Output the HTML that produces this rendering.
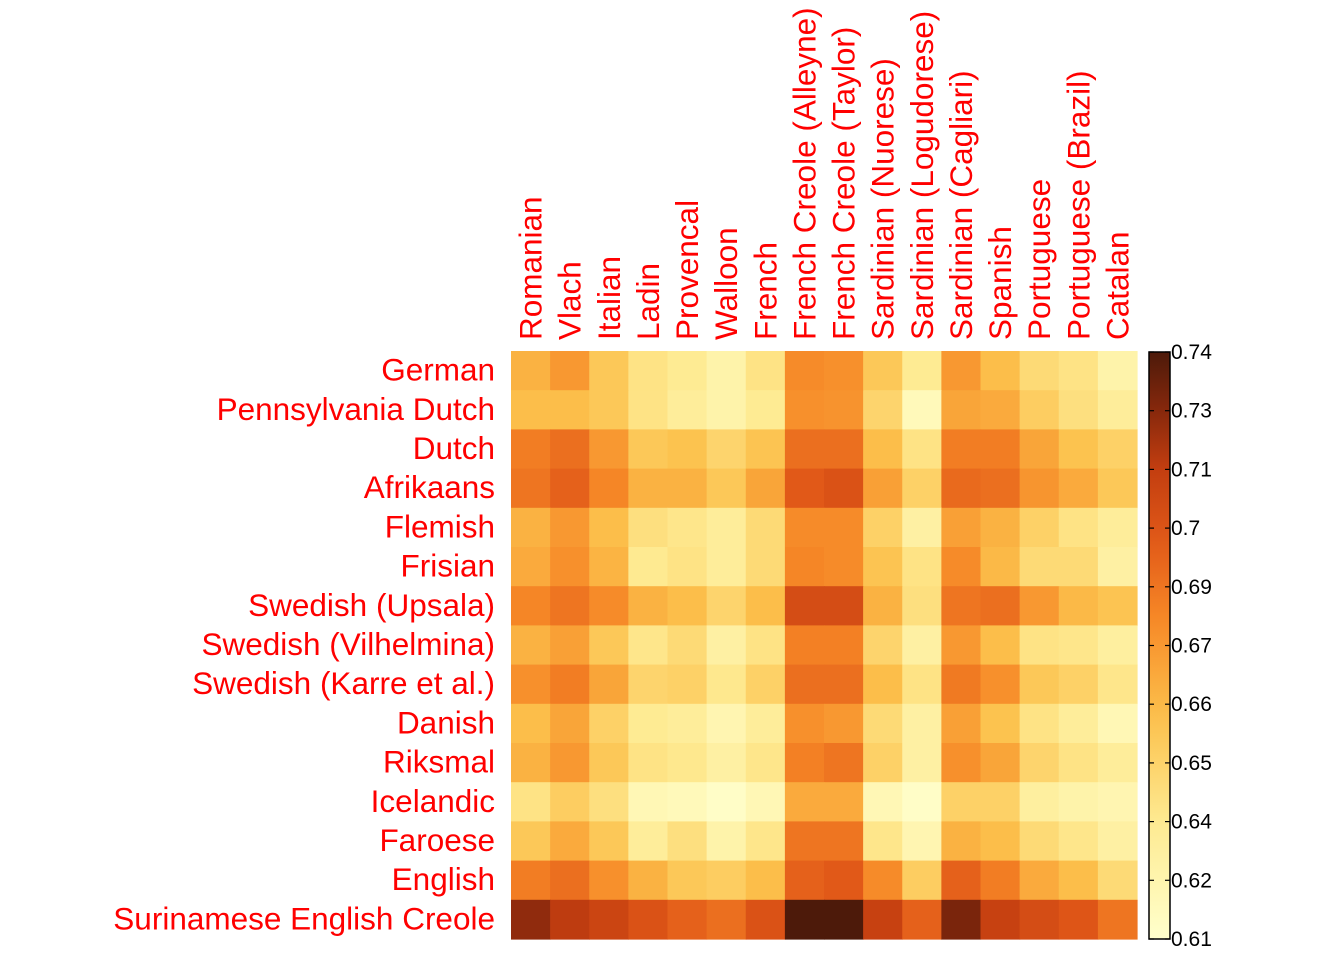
<!DOCTYPE html>
<html><head><meta charset="utf-8"><style>
html,body{margin:0;padding:0;background:#fff;}
svg{display:block;font-family:"Liberation Sans",Arial,sans-serif;}
</style></head><body>
<svg id="chart" width="1344" height="960" viewBox="0 0 1344 960" xmlns="http://www.w3.org/2000/svg">
<defs><linearGradient id="cbg" x1="0" y1="1" x2="0" y2="0"></linearGradient></defs>
<g id="cells"></g>
<g id="rowlabels"></g>
<g id="collabels"></g>
<g id="legend"></g>
</svg>
<script>
const columns=["Romanian","Vlach","Italian","Ladin","Provencal","Walloon","French","French Creole (Alleyne)","French Creole (Taylor)","Sardinian (Nuorese)","Sardinian (Logudorese)","Sardinian (Cagliari)","Spanish","Portuguese","Portuguese (Brazil)","Catalan"];
const rows=["German","Pennsylvania Dutch","Dutch","Afrikaans","Flemish","Frisian","Swedish (Upsala)","Swedish (Vilhelmina)","Swedish (Karre et al.)","Danish","Riksmal","Icelandic","Faroese","English","Surinamese English Creole"];
const v0=[0.665,0.675,0.655,0.64,0.635,0.625,0.64,0.68,0.678,0.655,0.635,0.675,0.66,0.645,0.64,0.625];
const v1=[0.66,0.66,0.655,0.64,0.632,0.625,0.635,0.678,0.677,0.648,0.618,0.67,0.668,0.652,0.642,0.632];
const v2=[0.685,0.69,0.675,0.655,0.658,0.648,0.657,0.69,0.69,0.66,0.64,0.685,0.685,0.67,0.658,0.65];
const v3=[0.688,0.695,0.682,0.665,0.665,0.655,0.67,0.698,0.702,0.672,0.65,0.692,0.69,0.676,0.668,0.655];
const v4=[0.665,0.675,0.66,0.642,0.638,0.632,0.645,0.68,0.68,0.65,0.628,0.672,0.665,0.65,0.64,0.632];
const v5=[0.668,0.678,0.664,0.636,0.64,0.632,0.645,0.682,0.68,0.657,0.64,0.68,0.662,0.645,0.645,0.628];
const v6=[0.682,0.688,0.68,0.665,0.66,0.648,0.66,0.705,0.705,0.665,0.642,0.688,0.69,0.675,0.662,0.657];
const v7=[0.665,0.672,0.655,0.638,0.645,0.628,0.64,0.684,0.684,0.648,0.628,0.675,0.66,0.64,0.638,0.63];
const v8=[0.678,0.685,0.67,0.648,0.65,0.637,0.65,0.69,0.69,0.66,0.64,0.686,0.678,0.655,0.65,0.638];
const v9=[0.66,0.67,0.65,0.635,0.632,0.622,0.632,0.678,0.675,0.645,0.628,0.672,0.658,0.64,0.632,0.62];
const v10=[0.665,0.675,0.655,0.64,0.637,0.628,0.638,0.684,0.688,0.65,0.628,0.678,0.67,0.648,0.64,0.632];
const v11=[0.64,0.652,0.642,0.62,0.618,0.612,0.62,0.668,0.668,0.62,0.612,0.65,0.65,0.63,0.625,0.622];
const v12=[0.655,0.668,0.655,0.632,0.642,0.625,0.638,0.688,0.688,0.638,0.622,0.665,0.66,0.645,0.638,0.628];
const v13=[0.685,0.69,0.678,0.665,0.655,0.652,0.66,0.695,0.698,0.68,0.652,0.695,0.685,0.668,0.66,0.645];
const v14=[0.725,0.715,0.71,0.702,0.695,0.69,0.702,0.74,0.74,0.712,0.695,0.73,0.712,0.705,0.7,0.688];
const values=[v0,v1,v2,v3,v4,v5,v6,v7,v8,v9,v10,v11,v12,v13,v14];
const vmin=0.61, vmax=0.74;
const tickLabels=["0.61","0.62","0.64","0.65","0.66","0.67","0.69","0.7","0.71","0.73","0.74"];

const NS="http://www.w3.org/2000/svg";
const px0=511, px1=1137, py0=351, py1=939;
const cw=(px1-px0)/columns.length, ch=(py1-py0)/rows.length;
const xPos=i=>px0+i*cw, yPos=j=>py0+j*ch;
const stops=[[0,[255,255,204]],[0.2,[254,234,145]],[0.38,[252,192,75]],[0.55,[246,135,38]],[0.68,[225,88,24]],[0.8,[195,62,16]],[0.9,[135,40,12]],[1,[77,26,10]]];
function color(v){let t=Math.max(0,Math.min(1,(v-vmin)/(vmax-vmin)));
 for(let k=1;k<stops.length;k++){if(t<=stops[k][0]){const a=stops[k-1],b=stops[k];const f=(t-a[0])/(b[0]-a[0]);
 return "rgb("+a[1].map((c,i)=>Math.round(c+(b[1][i]-c)*f)).join(",")+")";}}return "rgb(77,26,10)";}
function mk(tag,attrs,parent){const e=document.createElementNS(NS,tag);for(const k in attrs)e.setAttribute(k,attrs[k]);parent.appendChild(e);return e;}
const cells=document.getElementById('cells');
values.forEach((row,j)=>row.forEach((v,i)=>{
 const r=mk('rect',{x:xPos(i),y:yPos(j),width:cw+0.6,height:ch+0.6,fill:color(v)},cells);
 
 
}));
const rl=document.getElementById('rowlabels');
rows.forEach((n,j)=>{const t=mk('text',{x:495,y:yPos(j)+ch/2+10,'text-anchor':'end','font-size':31.5,fill:'#ff0000'},rl);t.textContent=n;
 
 });
const cl=document.getElementById('collabels');
columns.forEach((n,i)=>{const x=xPos(i)+cw/2+11,y=340;const t=mk('text',{x:x,y:y,transform:'rotate(-90 '+x+' '+y+')','font-size':31.5,fill:'#ff0000'},cl);t.textContent=n;
 
 });
const lg=document.getElementById('legend');
const grad=document.getElementById('cbg');
for(let k=0;k<=20;k++){mk('stop',{offset:(k/20),'stop-color':color(vmin+(vmax-vmin)*k/20)},grad);}
const lx=1149,lw=21,ly0=352,ly1=939;
const bar=mk('rect',{x:lx,y:ly0,width:lw,height:ly1-ly0,fill:'url(#cbg)',stroke:'#000','stroke-width':1.5},lg);


tickLabels.forEach((l,k)=>{const y=ly1-(ly1-ly0)*k/(tickLabels.length-1);
 mk('line',{x1:lx+lw-5,x2:lx+lw,y1:y,y2:y,stroke:'#000','stroke-width':1.2},lg);
 mk('line',{x1:lx,x2:lx+5,y1:y,y2:y,stroke:'#000','stroke-width':1.2},lg);
 const t=mk('text',{x:lx+lw+1,y:y+7,'font-size':21,fill:'#000'},lg);t.textContent=l;
 
 });
</script>
</body></html>
